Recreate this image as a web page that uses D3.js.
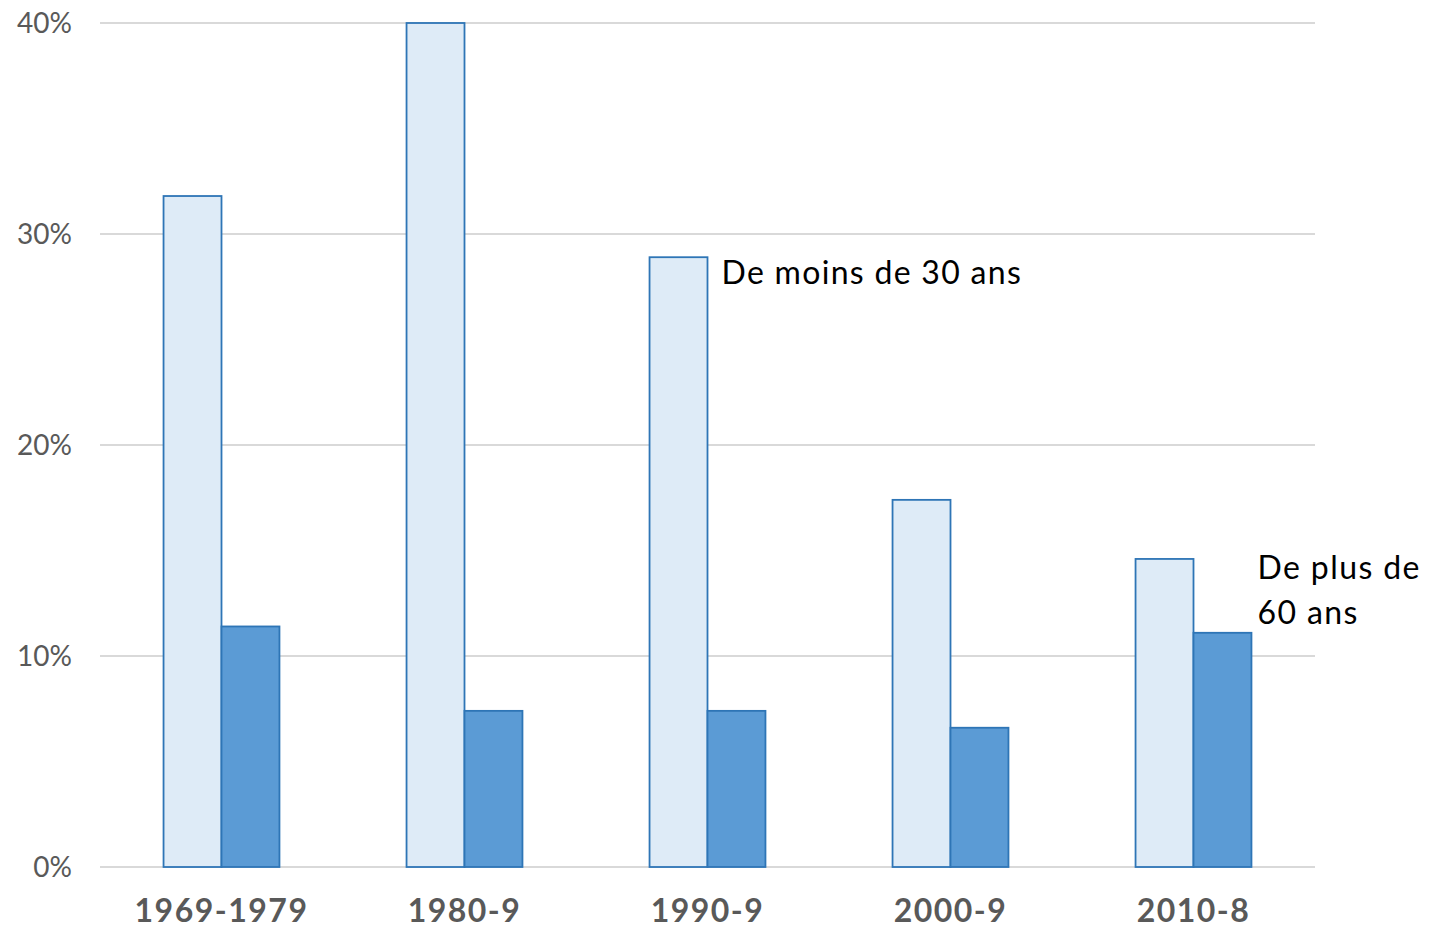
<!DOCTYPE html>
<html><head><meta charset="utf-8">
<script src="https://cdn.jsdelivr.net/npm/d3@7"></script>
<style>body{margin:0;background:#fff;} svg{display:block;}</style>
</head><body>
<script>
const categories = ["1969-1979", "1980-9", "1990-9", "2000-9", "2010-8"];
const under30 = [31.8, 40.0, 28.9, 17.4, 14.6];
const over60 = [11.4, 7.4, 7.4, 6.6, 11.1];
const yTicks = [0, 10, 20, 30, 40];
const seriesNames = ["De moins de 30 ans", "De plus de 60 ans"];

(function () {
const W = 1444, H = 930;
const mLeft = 100, mRight = 1315, mTop = 23, mBottom = 867;
const svg = d3.select("body").append("svg").attr("width", W).attr("height", H);
const font = "Lato, 'Open Sans', sans-serif";

const x = d3.scaleBand().domain(categories).range([mLeft, mRight]).paddingInner(0.523).paddingOuter(0.2615);
const y = d3.scaleLinear().domain([0, 40]).range([mBottom, mTop]);

// gridlines
svg.append("g").selectAll("line").data(yTicks).join("line")
  .attr("x1", mLeft).attr("x2", mRight)
  .attr("y1", d => y(d)).attr("y2", d => y(d))
  .attr("stroke", "#d9d9d9").attr("stroke-width", 2);

// y axis labels
const yAxis = d3.axisLeft(y).tickValues(yTicks).tickFormat(d => d + "%").tickSize(0).tickPadding(0);
const yg = svg.append("g").attr("transform", `translate(72,0)`).call(yAxis);
yg.select(".domain").remove();
yg.selectAll("text").attr("font-family", font).attr("font-size", 28).attr("fill", "#595959").attr("dy", "0.34em");

const bw = x.bandwidth() / 2;
const g = svg.append("g");
g.selectAll("rect.u").data(categories).join("rect").attr("class", "u")
  .attr("x", (d) => x(d)).attr("width", bw)
  .attr("y", (d, i) => y(under30[i])).attr("height", (d, i) => y(0) - y(under30[i]))
  .attr("fill", "#deebf7").attr("stroke", "#2e75b6").attr("stroke-width", 1.8);
g.selectAll("rect.o").data(categories).join("rect").attr("class", "o")
  .attr("x", (d) => x(d) + bw).attr("width", bw)
  .attr("y", (d, i) => y(over60[i])).attr("height", (d, i) => y(0) - y(over60[i]))
  .attr("fill", "#5b9bd5").attr("stroke", "#2e75b6").attr("stroke-width", 1.8);

// x axis labels
const xAxis = d3.axisBottom(x).tickSize(0).tickPadding(0);
const xg = svg.append("g").attr("transform", `translate(0,${mBottom})`).call(xAxis);
xg.select(".domain").remove();
xg.selectAll("text").attr("font-family", font).attr("font-size", 32).attr("font-weight", "bold")
  .attr("letter-spacing", 1.5).attr("fill", "#595959").attr("dy", null).attr("y", 55);

// annotations
svg.append("text").attr("x", x(categories[2]) + bw + 14).attr("y", y(under30[2]) + 27)
  .attr("font-family", font).attr("font-size", 32).attr("letter-spacing", 1.3)
  .attr("fill", "#000").text(seriesNames[0]);
const lx = x(categories[4]) + 2 * bw + 6;
const t = svg.append("text").attr("x", lx).attr("y", 579)
  .attr("font-family", font).attr("font-size", 32).attr("letter-spacing", 1.4).attr("fill", "#000");
t.append("tspan").attr("x", lx).text("De plus de");
t.append("tspan").attr("x", lx).attr("dy", 45).text("60 ans");
})();
</script>
</body></html>
